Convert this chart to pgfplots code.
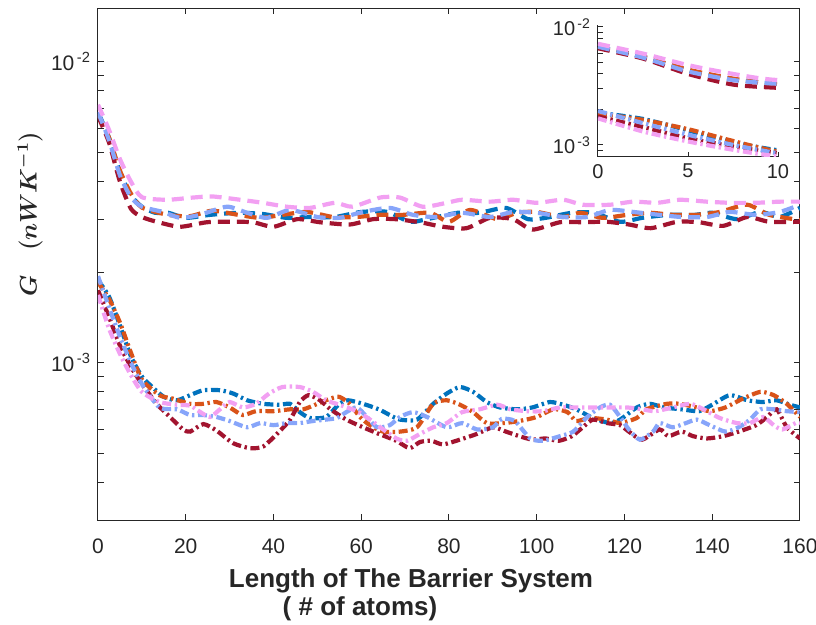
\documentclass[border=0pt]{standalone}
\usepackage{amsmath}
\usepackage{pgfplots}
\pgfplotsset{compat=1.18}
\usepackage{pgfplotstable}
\usepackage{fontspec}
\setmainfont{Liberation Sans}

\definecolor{cBlue}{RGB}{0,114,189}
\definecolor{cOrange}{RGB}{217,83,25}
\definecolor{cRed}{RGB}{162,20,47}
\definecolor{cLBlue}{RGB}{135,165,250}
\definecolor{cPink}{RGB}{242,160,242}

% ---------- upper (dashed) series ----------
\pgfplotstableread{
x y
0 6.8e-3
2.5 5.6e-3
5 4.3e-3
7.5 3.6e-3
10 3.3e-3
13 3.15e-3
16 3.15e-3
20 3.03e-3
25.5 3.1e-3
32 3.15e-3
37.6 3.12e-3
43 3.03e-3
48 3.05e-3
54 3.05e-3
60 3.17e-3
66 3.17e-3
71 2.94e-3
75 3.0e-3
82 3.15e-3
87 3.15e-3
93 3.27e-3
98 3.0e-3
102 3.03e-3
108 3.15e-3
113 3.15e-3
119 2.94e-3
124 3.03e-3
130 3.1e-3
136 3.1e-3
140 3.15e-3
145.6 3.0e-3
151 3.17e-3
155.4 3.05e-3
160 3.27e-3
}\blueU
\pgfplotstableread{
x y
0 6.7e-3
2.5 5.6e-3
5 4.35e-3
7.5 3.65e-3
10 3.28e-3
16 3.1e-3
21 3.07e-3
26 3.2e-3
32 3.1e-3
37 3.03e-3
42 3.1e-3
47.6 3.17e-3
53.6 3.05e-3
59 3.05e-3
64 3.1e-3
69.5 3.1e-3
75.7 3.15e-3
80 2.94e-3
84.8 3.22e-3
91 3.0e-3
95.5 3.15e-3
100 3.17e-3
106 3.05e-3
110 3.15e-3
115 3.03e-3
120.6 3.1e-3
125.8 3.15e-3
131 3.1e-3
136.5 3.1e-3
141.7 3.17e-3
148 3.35e-3
153 3.1e-3
160 2.98e-3
}\orangeU
\pgfplotstableread{
x y
0 6.8e-3
2.5 5.5e-3
5 4.2e-3
7.5 3.55e-3
10 3.3e-3
14.8 3.17e-3
18.7 3.03e-3
23.2 3.1e-3
29.4 3.3e-3
34 3.15e-3
38.5 3.03e-3
43.8 3.22e-3
50 3.05e-3
55 3.03e-3
60.4 3.17e-3
66.5 3.27e-3
71.8 3.1e-3
77 3.05e-3
83 3.15e-3
89.3 3.05e-3
94.6 3.17e-3
100 3.15e-3
106 3.05e-3
111.5 3.05e-3
116.7 3.22e-3
122 3.17e-3
128 3.1e-3
133 3.05e-3
138.8 3.05e-3
144 3.17e-3
150 3.1e-3
155.4 3.17e-3
160 3.35e-3
}\lblueU
\pgfplotstableread{
x y
0 6.6e-3
2.5 5.4e-3
5 4.0e-3
7.5 3.25e-3
10 3.05e-3
13.4 2.94e-3
18.7 2.83e-3
24.8 2.93e-3
30 2.94e-3
35.3 2.93e-3
40 2.83e-3
45.4 3.0e-3
50.6 2.93e-3
57.4 2.88e-3
62.7 3.0e-3
67.7 3.0e-3
73.4 2.93e-3
78.6 2.83e-3
84 2.8e-3
89.3 3.03e-3
94.6 3.0e-3
99 2.77e-3
105.3 2.93e-3
110.5 2.93e-3
116 2.94e-3
121 2.88e-3
126 2.8e-3
132 2.94e-3
137 2.93e-3
142.5 2.85e-3
148 3.05e-3
153 2.94e-3
160 2.94e-3
}\redU
\pgfplotstableread{
x y
0 7.2e-3
2.5 5.95e-3
5 4.75e-3
7.5 4.0e-3
10 3.55e-3
15.7 3.48e-3
21.7 3.54e-3
26 3.57e-3
32.4 3.48e-3
37.6 3.4e-3
43 3.3e-3
48.3 3.27e-3
54 3.4e-3
58 3.3e-3
64.3 3.54e-3
68.8 3.54e-3
74 3.3e-3
79.5 3.4e-3
83 3.48e-3
89.3 3.43e-3
94.6 3.48e-3
100 3.4e-3
106 3.48e-3
110.5 3.35e-3
116.7 3.35e-3
122 3.43e-3
127.4 3.4e-3
132.6 3.48e-3
138.8 3.43e-3
144 3.4e-3
150 3.4e-3
155.4 3.43e-3
160 3.43e-3
}\pinkU

% ---------- lower (dash-dot) series ----------
\pgfplotstableread{
x y
0 1.88e-3
2.5 1.66e-3
5 1.33e-3
7.5 1.05e-3
10 9.0e-4
12 8.4e-4
15 7.7e-4
18 7.5e-4
21 7.8e-4
24 8.1e-4
27.8 8.1e-4
30.8 7.9e-4
34 7.5e-4
37.6 7.3e-4
41.5 7.25e-4
43.8 7.3e-4
46 6.85e-4
48.3 6.55e-4
52 6.6e-4
55 7.3e-4
57 7.5e-4
60.4 7.3e-4
64 7.0e-4
66.5 6.7e-4
68.8 6.47e-4
72.7 6.47e-4
76.4 7.3e-4
79.5 7.9e-4
82.5 8.3e-4
85.5 8.0e-4
88.6 7.4e-4
91.6 7.1e-4
95.5 7.0e-4
99 7.1e-4
103 7.4e-4
106 7.25e-4
109 7.0e-4
112.8 6.55e-4
116.7 6.3e-4
119 6.47e-4
122.8 7.1e-4
125.8 7.3e-4
129 7.1e-4
133 7.0e-4
137 6.9e-4
140 7.25e-4
144 7.8e-4
148 7.5e-4
151.6 7.4e-4
154.7 7.5e-4
157.7 7.25e-4
160 7.1e-4
}\blueL
\pgfplotstableread{
x y
0 1.85e-3
2.5 1.63e-3
5 1.36e-3
7.5 1.08e-3
10 8.8e-4
14 7.8e-4
17 7.6e-4
21 7.3e-4
24 7.3e-4
27 7.4e-4
30 7.1e-4
33 6.7e-4
36 6.9e-4
40 6.9e-4
43.8 7.0e-4
46.8 7.0e-4
50 7.3e-4
53 7.6e-4
55 7.7e-4
57.4 7.3e-4
59.7 6.6e-4
62 6.2e-4
65 5.9e-4
68.8 5.9e-4
72.7 6.1e-4
76.4 7.3e-4
79.5 7.5e-4
82.5 7.25e-4
85.5 6.85e-4
88.6 6.3e-4
92.4 6.3e-4
96 6.4e-4
100 6.6e-4
103.8 7.0e-4
107 6.85e-4
109 6.4e-4
112 6.55e-4
116 6.47e-4
119 6.3e-4
122.8 6.55e-4
125 7.0e-4
129.7 7.3e-4
132.6 7.3e-4
136.5 7.1e-4
139.4 6.9e-4
143 7.1e-4
147 7.6e-4
151 8.0e-4
154 7.8e-4
157 7.3e-4
160 6.6e-4
}\orangeL
\pgfplotstableread{
x y
0 1.94e-3
2.5 1.53e-3
5 1.22e-3
7.5 1.0e-3
10 8.5e-4
14 7.1e-4
18 7.0e-4
21 6.7e-4
24 6.7e-4
27 6.6e-4
30 6.4e-4
34 6.1e-4
37 6.3e-4
40 6.2e-4
43 6.3e-4
46 6.3e-4
49 6.4e-4
52 6.47e-4
54.5 6.55e-4
56.6 6.85e-4
59 7.1e-4
61.3 6.6e-4
63.6 6.1e-4
66.5 6.2e-4
68.8 6.6e-4
71.8 6.85e-4
75 6.6e-4
79.5 6.1e-4
83 6.3e-4
86.4 6.0e-4
90 6.1e-4
92 6.5e-4
95 6.4e-4
98.5 5.6e-4
101.4 5.5e-4
105.3 5.7e-4
108.3 5.9e-4
111.5 6.6e-4
114.4 7.1e-4
116.7 7.25e-4
119 6.6e-4
121 6.0e-4
123.5 5.55e-4
126.5 5.9e-4
128 6.3e-4
131 6.1e-4
134 6.3e-4
136.5 6.47e-4
139.4 6.2e-4
143 5.9e-4
146 6.1e-4
148.6 6.47e-4
151 7.0e-4
154 7.0e-4
157 6.9e-4
160 6.85e-4
}\lblueL
\pgfplotstableread{
x y
0 1.74e-3
2.5 1.42e-3
5 1.14e-3
7.5 9.7e-4
10 8.5e-4
13.4 7.3e-4
16.4 6.6e-4
19.4 6.0e-4
21 5.9e-4
24 6.25e-4
27 5.95e-4
30.8 5.4e-4
34.6 5.2e-4
37.6 5.26e-4
40.8 5.8e-4
43.8 6.47e-4
46 7.4e-4
48 7.8e-4
50.6 7.5e-4
53 7.0e-4
56.6 6.47e-4
60.4 6.1e-4
64 5.8e-4
68 5.5e-4
71 5.2e-4
73.4 5.45e-4
76 5.5e-4
78.6 5.35e-4
82.5 5.55e-4
86.4 5.8e-4
90 6.1e-4
93 5.9e-4
96 5.7e-4
99 5.55e-4
102 5.6e-4
105 5.5e-4
108 5.7e-4
110.5 6.1e-4
112.8 6.47e-4
116 6.3e-4
119 6.2e-4
121 5.9e-4
124 5.55e-4
128 6.0e-4
130 5.7e-4
133 5.9e-4
135.6 5.7e-4
138.8 5.6e-4
142.5 5.7e-4
146 5.9e-4
150 6.2e-4
152.5 6.6e-4
154.7 7.0e-4
157 6.1e-4
160 5.6e-4
}\redL
\pgfplotstableread{
x y
0 1.68e-3
2.5 1.30e-3
5 1.07e-3
7.5 9.1e-4
10 8.0e-4
14 7.4e-4
18 7.25e-4
21 7.2e-4
23 6.9e-4
25.5 6.6e-4
27.8 7.0e-4
30 7.4e-4
33 7.1e-4
36 7.3e-4
39 7.9e-4
42 8.3e-4
46 8.3e-4
49 8.0e-4
52 7.5e-4
55 7.25e-4
59 6.9e-4
62 6.47e-4
65 6.0e-4
68 5.6e-4
70.4 5.5e-4
73.4 5.8e-4
76.4 6.1e-4
79.5 6.3e-4
83 6.85e-4
87 7.0e-4
91 7.25e-4
94 7.0e-4
97.8 6.9e-4
101.4 6.9e-4
105.3 7.1e-4
109 7.1e-4
112.8 7.1e-4
116.7 7.1e-4
120.6 7.1e-4
124 7.0e-4
127 6.9e-4
131 7.1e-4
135 7.3e-4
138 7.0e-4
141.7 6.55e-4
145.6 6.3e-4
148.6 6.3e-4
151.6 6.6e-4
154 6.2e-4
156 6.0e-4
159 6.3e-4
160 6.3e-4
}\pinkL

\pgfplotsset{
  dU/.style={line width=2.1pt, dash pattern=on 6pt off 3.5pt, smooth, tension=0.4},
  dL/.style={line width=2.1pt, dash pattern=on 4.5pt off 1.8pt on 1.2pt off 1.8pt, smooth, tension=0.4},
}

\begin{document}
\begin{tikzpicture}
\path[use as bounding box] (-49pt,-52.5pt) rectangle (359pt,260pt);
\begin{axis}[
  at={(0pt,0pt)}, anchor=south west,
  scale only axis, width=351pt, height=256pt,
  xmin=0, xmax=160, ymode=log, ymin=3e-4, ymax=1.51e-2,
  xtick={0,20,...,160},
  ytick={1e-3,1e-2}, yticklabels={10\textsuperscript{\,-3},10\textsuperscript{\,-2}},
  minor ytick={3e-4,4e-4,5e-4,6e-4,7e-4,8e-4,9e-4,2e-3,3e-3,4e-3,5e-3,6e-3,7e-3,8e-3,9e-3},
  tick align=inside, major tick length=3.2pt, minor tick length=3.2pt,
  axis line style={black!85, line width=0.5pt},
  every tick/.style={black!85, line width=0.5pt},
  ticklabel style={font=\fontsize{10.5}{12}\selectfont, text=black!85},
  xticklabel style={yshift=-6pt},
  /pgf/number format/assume math mode=true,
  ylabel={$\boldsymbol{G\quad(nWK^{-1})}$},
  ylabel style={font=\fontsize{12}{14}\selectfont, text=black!85, at={(axis description cs:-0.097,0.598)}, anchor=center},
]
\addplot[dU, cBlue] table {\blueU};
\addplot[dU, cOrange] table {\orangeU};
\addplot[dU, cRed] table {\redU};
\addplot[dU, cLBlue] table {\lblueU};
\addplot[dU, cPink] table {\pinkU};
\addplot[dL, cBlue] table {\blueL};
\addplot[dL, cOrange] table {\orangeL};
\addplot[dL, cRed] table {\redL};
\addplot[dL, cLBlue] table {\lblueL};
\addplot[dL, cPink] table {\pinkL};
\end{axis}

\begin{axis}[
  at={(250pt,181.5pt)}, anchor=south west,
  scale only axis, width=90pt, height=66pt,
  xmin=0, xmax=10, ymode=log, ymin=7.9e-4, ymax=1.04e-2,
  axis x line=bottom, axis y line=left,
  axis line style={-, black!85, line width=0.5pt},
  xtick={0,5,10},
  ytick={1e-3,1e-2}, yticklabels={10\textsuperscript{\,-3},10\textsuperscript{\,-2}},
  minor ytick={8e-4,9e-4,2e-3,3e-3,4e-3,5e-3,6e-3,7e-3,8e-3,9e-3},
  tick align=inside, major tick length=2.4pt, minor tick length=2.4pt,
  every tick/.style={black!85, line width=0.5pt},
  ticklabel style={font=\fontsize{10}{12}\selectfont, text=black!85},
  /pgf/number format/assume math mode=true,
]
\addplot[dU, cBlue] table {\blueU};
\addplot[dU, cOrange] table {\orangeU};
\addplot[dU, cRed] table {\redU};
\addplot[dU, cLBlue] table {\lblueU};
\addplot[dU, cPink] table {\pinkU};
\addplot[dL, cBlue] table {\blueL};
\addplot[dL, cOrange] table {\orangeL};
\addplot[dL, cRed] table {\redL};
\addplot[dL, cLBlue] table {\lblueL};
\addplot[dL, cPink] table {\pinkL};
\end{axis}

\node[font=\fontsize{13}{16}\selectfont\bfseries, text=black!85] at (156.5pt,-30.5pt) {Length of The Barrier System};
\node[font=\fontsize{13}{16}\selectfont\bfseries, text=black!85] at (131pt,-44.5pt) {( \# of atoms)};
\end{tikzpicture}
\end{document}
